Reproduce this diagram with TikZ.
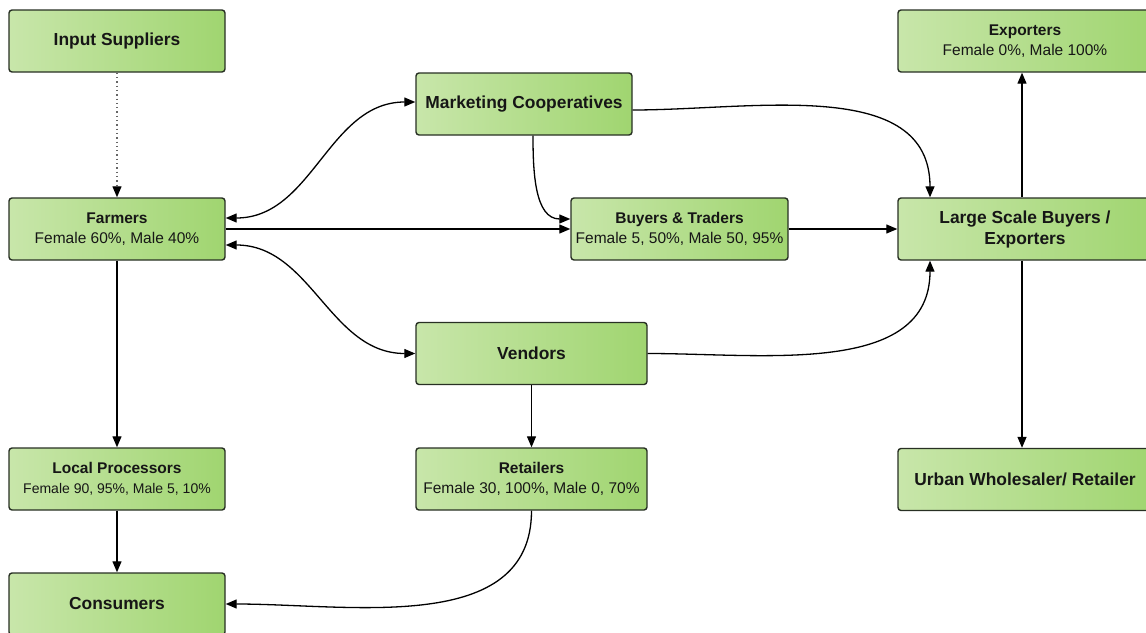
\documentclass[tikz,border=0pt]{standalone}
\usepackage{fontspec}
\setmainfont{Liberation Sans}
\usetikzlibrary{arrows.meta}
\definecolor{gl}{RGB}{200,230,170}
\definecolor{gr}{RGB}{160,213,112}
\definecolor{bd}{RGB}{40,48,36}
\definecolor{tx}{RGB}{22,22,22}
\tikzset{
 box/.style={draw=bd, line width=1.4pt, rounded corners=3pt, left color=gl, right color=gr, minimum height=62pt, align=center, inner sep=0pt, text=tx},
 bigt/.style={font=\fontsize{17.4}{21}\selectfont\bfseries},
 twot/.style={font=\fontsize{15.5}{20}\selectfont},
 conn/.style={line width=1.3pt, -{Triangle[length=11pt,width=9pt]}},
 biconn/.style={line width=1.3pt, {Triangle[length=11pt,width=9pt]}-{Triangle[length=11pt,width=9pt]}},
 dotconn/.style={line width=1.3pt, dash pattern=on 1.3pt off 3pt, draw=black!60, -{Triangle[length=11pt,width=9pt,color=black]}},
}
\begin{document}
\begin{tikzpicture}[x=1pt,y=-1pt]
\fill[white] (0,0) rectangle (1146,632);
\useasboundingbox (0,0) rectangle (1146,632);
\clip (0,0) rectangle (1146,632);

\node[box,bigt,minimum width=216pt] (inp) at (117,41) {Input Suppliers};
\node[box,twot,minimum width=216pt] (farm) at (117,229) {\textbf{Farmers}\\Female 60\%, Male 40\%};
\node[box,bigt,minimum width=216pt] (mkt) at (524,104) {Marketing Cooperatives};
\node[box,twot,minimum width=217pt] (buy) at (679.5,229) {\textbf{Buyers \& Traders}\\Female 5, 50\%, Male 50, 95\%};
\node[box,bigt,minimum width=254pt] (lsb) at (1025,229) {Large Scale Buyers /\\Exporters};
\node[box,twot,minimum width=254pt] (exp) at (1025,41) {\textbf{Exporters}\\Female 0\%, Male 100\%};
\node[box,bigt,minimum width=231pt] (ven) at (531.5,353.5) {Vendors};
\node[box,twot,minimum width=216pt] (loc) at (117,479) {\textbf{Local Processors}\\{\fontsize{14}{18}\selectfont Female 90, 95\%, Male 5, 10\%}};
\node[box,twot,minimum width=231pt] (ret) at (531.5,479) {\textbf{Retailers}\\Female 30, 100\%, Male 0, 70\%};
\node[box,bigt,minimum width=254pt] (urb) at (1025,479.5) {Urban Wholesaler/ Retailer};
\node[box,bigt,minimum width=216pt] (cons) at (117,604) {Consumers};

\draw[dotconn] (inp) -- (farm);
\draw[biconn] ([yshift=11pt]farm.east) to[out=0,in=180] ([yshift=2pt]mkt.west);
\draw[conn] (farm.east) -- (buy.west);
\draw[biconn] ([yshift=-16pt]farm.east) to[out=0,in=180] (ven.west);
\draw[conn] ([xshift=9pt]mkt.south) to[out=-90,in=180] ([yshift=10pt]buy.west);
\draw[conn] ([yshift=-6pt]mkt.east) to[out=0,in=90] ([xshift=-95pt]lsb.north);
\draw[conn] (buy.east) -- (lsb.west);
\draw[conn] (ven.east) to[out=0,in=-90] ([xshift=-95pt]lsb.south);
\draw[conn] ([xshift=-3pt]lsb.north) -- ([xshift=-3pt]exp.south);
\draw[conn] ([xshift=-3pt]lsb.south) -- ([xshift=-3pt]urb.north);
\draw[conn] (farm) -- (loc);
\draw[conn] (ven) -- (ret);
\draw[conn] (loc) -- (cons);
\draw[conn] (ret.south) to[out=-90,in=0] (cons.east);
\end{tikzpicture}
\end{document}
